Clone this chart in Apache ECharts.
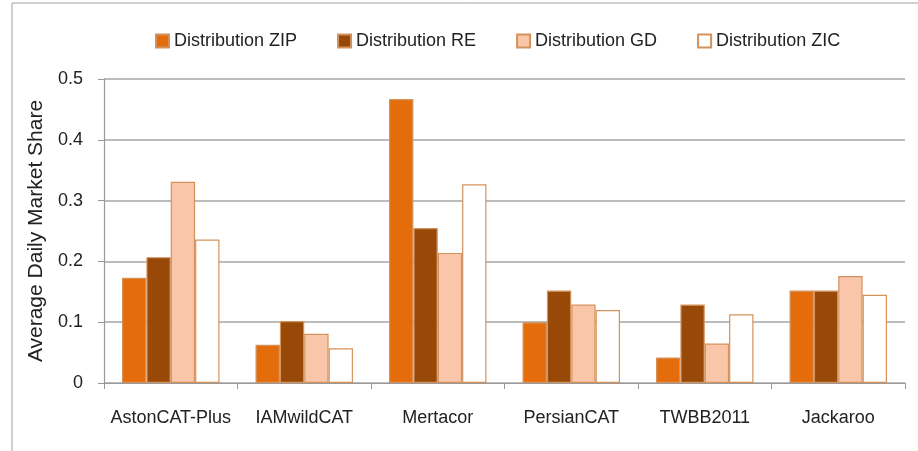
<!DOCTYPE html>
<html>
<head>
<meta charset="utf-8">
<script src="https://cdn.jsdelivr.net/npm/echarts@6/dist/echarts.min.js"></script>
<style>
  html, body { margin: 0; padding: 0; background: #fff; }
  #chart { width: 918px; height: 451px; }
</style>
</head>
<body>
<div id="chart"></div>
<script>
// agents on the x axis
var categories = ['AstonCAT-Plus', 'IAMwildCAT', 'Mertacor', 'PersianCAT', 'TWBB2011', 'Jackaroo'];
// average daily market share
var distZIP = [0.173, 0.063, 0.467, 0.100, 0.042, 0.152];
var distRE  = [0.207, 0.102, 0.255, 0.152, 0.129, 0.152];
var distGD  = [0.331, 0.081, 0.214, 0.129, 0.065, 0.176];
var distZIC = [0.236, 0.057, 0.327, 0.120, 0.113, 0.145];
var yTicks = [0, 0.1, 0.2, 0.3, 0.4, 0.5];

var font = 'Liberation Sans';
var chart = echarts.init(document.getElementById('chart'));

function bar(name, data, color) {
  return {
    name: name,
    type: 'bar',
    data: data,
    barGap: '0%',
    barCategoryGap: '27%',
    itemStyle: { color: color, borderColor: '#d3925c', borderWidth: 1.2 }
  };
}

var option = {
  animation: false,
  textStyle: { fontFamily: font },
  graphic: [{
    type: 'rect',
    shape: { x: 12, y: 3, width: 1000, height: 1000 },
    style: { fill: 'none', stroke: '#a0a0a0', lineWidth: 1 },
    silent: true
  }],
  legend: {
    top: 27,
    left: 150,
    icon: 'rect',
    itemWidth: 13,
    itemHeight: 13,
    itemGap: 40,
    textStyle: { fontFamily: font, fontSize: 18, color: '#222' },
    data: ['Distribution ZIP', 'Distribution RE', 'Distribution GD', 'Distribution ZIC']
  },
  grid: { left: 104, right: 13, top: 79, bottom: 68 },
  xAxis: {
    type: 'category',
    data: categories,
    axisLine: { lineStyle: { color: '#999', width: 1.2 } },
    axisTick: { show: true, length: 6, interval: 0, lineStyle: { color: '#999' } },
    axisLabel: { color: '#222', fontSize: 18, margin: 26, interval: 0, fontFamily: font }
  },
  yAxis: {
    type: 'value',
    min: 0,
    max: 0.5,
    interval: 0.1,
    name: 'Average Daily Market Share',
    nameLocation: 'middle',
    nameGap: 57,
    nameTextStyle: { fontSize: 21, color: '#222', fontFamily: font },
    axisLine: { show: true, lineStyle: { color: '#999', width: 1.2 } },
    axisTick: { show: true, length: 6, lineStyle: { color: '#999' } },
    splitLine: { lineStyle: { color: '#a6a6a6', width: 1.5 } },
    axisLabel: {
      color: '#222', fontSize: 18, margin: 21, fontFamily: font,
      formatter: function (v) {
        var t = yTicks.find(function (k) { return Math.abs(k - v) < 1e-9; });
        return t === undefined ? '' : String(t);
      }
    }
  },
  series: [
    bar('Distribution ZIP', distZIP, '#e46c0a'),
    bar('Distribution RE', distRE, '#984807'),
    bar('Distribution GD', distGD, '#fac6aa'),
    bar('Distribution ZIC', distZIC, '#ffffff')
  ]
};

chart.setOption(option);
</script>
</body>
</html>
